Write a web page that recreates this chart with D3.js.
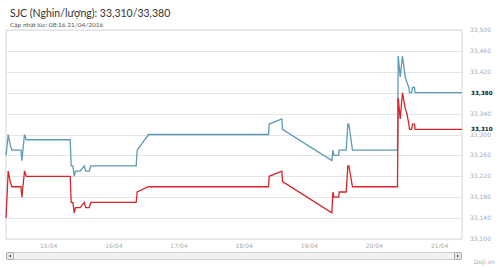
<!DOCTYPE html>
<meta charset="utf-8">
<head>
<style>
    body {margin: 0; background: #ffffff;}
    .ylab {font-family: "DejaVu Sans", sans-serif; font-size: 6px; fill: #aaaaaa;}
    .xlab {font-family: "DejaVu Sans", sans-serif; font-size: 6px; fill: #aaaaaa;}
</style>
</head>
<body>
<div class="chart"></div>
</body>
<script src="https://cdnjs.cloudflare.com/ajax/libs/d3/7.8.5/d3.min.js"></script>
<script>
// thoi diem cap nhat gia (nam 2016)
var times = [
    "14/04 08:16", "14/04 09:05", "14/04 09:49", "14/04 10:26", "14/04 13:46", "14/04 14:08",
    "14/04 14:30", "14/04 15:05", "14/04 15:43", "15/04 07:55", "15/04 08:17", "15/04 08:55",
    "15/04 09:24", "15/04 09:52", "15/04 11:36", "15/04 13:05", "15/04 13:38", "15/04 14:55",
    "15/04 15:33", "16/04 08:14", "16/04 08:36", "16/04 12:46", "18/04 08:59", "18/04 09:14",
    "18/04 13:55", "18/04 14:08", "19/04 08:20", "19/04 08:42", "19/04 09:04", "19/04 10:50",
    "19/04 11:01", "19/04 13:36", "19/04 14:13", "19/04 14:35", "19/04 15:55", "20/04 08:30",
    "20/04 08:46", "20/04 09:30", "20/04 10:20", "20/04 11:20", "20/04 11:58", "20/04 12:42",
    "20/04 12:55", "20/04 13:44", "20/04 14:02", "20/04 14:46", "20/04 15:00", "21/04 08:16"
];
// gia ban
var sell = [
    33260, 33300, 33280, 33270, 33270, 33250, 33270, 33300, 33290, 33290, 33240, 33240,
    33220, 33230, 33230, 33240, 33230, 33230, 33240, 33240, 33270, 33300, 33300, 33320,
    33330, 33310, 33250, 33270, 33260, 33260, 33270, 33270, 33320, 33320, 33270, 33270,
    33450, 33410, 33450, 33410, 33400, 33390, 33380, 33380, 33390, 33390, 33380, 33380
];
// gia mua
var buy = [
    33140, 33230, 33210, 33200, 33200, 33180, 33200, 33230, 33220, 33220, 33170, 33170,
    33150, 33160, 33160, 33170, 33160, 33160, 33170, 33170, 33190, 33200, 33200, 33220,
    33230, 33210, 33150, 33190, 33180, 33180, 33190, 33190, 33240, 33240, 33200, 33200,
    33370, 33330, 33380, 33350, 33340, 33320, 33310, 33310, 33320, 33320, 33310, 33310
];
var yTicks = [33100, 33140, 33180, 33220, 33260, 33300, 33340, 33420, 33460, 33500];
var xTicks = ["15/04", "16/04", "17/04", "18/04", "19/04", "20/04", "21/04"];
var lastBuy = 33310, lastSell = 33380;
var title = "SJC (Nghin/lượng): 33,310/33,380";
var updated = "Cập nhật lúc: 08:16 21/04/2016";

var W = 500, H = 268;
var box = {left: 6, top: 30, right: 462, bottom: 239};

var parse = d3.timeParse("%d/%m %H:%M %Y");
var toDate = function (s) { return parse(s + " 2016"); };
var dayParse = function (s) { return parse(s + " 00:00 2016"); };

var x = d3.scaleTime()
    .domain([toDate(times[0]), toDate(times[times.length - 1])])
    .range([box.left, box.right]);
var y = d3.scaleLinear().domain([33100, 33500]).range([box.bottom, box.top]);

var svg = d3.select(".chart").append("svg")
    .attr("width", W)
    .attr("height", H);

svg.append("text")
    .attr("x", 10).attr("y", 16.5)
    .style("font-family", "Lato, sans-serif")
    .style("font-size", "10.5px")
    .style("fill", "#333333")
    .text(title);
svg.append("text")
    .attr("x", 10).attr("y", 26.5)
    .style("font-family", "Lato, sans-serif")
    .style("font-size", "6.5px")
    .style("fill", "#555555")
    .text(updated);

svg.append("rect")
    .attr("x", box.left).attr("y", box.top)
    .attr("width", box.right - box.left).attr("height", box.bottom - box.top)
    .style("fill", "#ffffff").style("stroke", "#d8d8d8");

var grid = d3.range(33100, 33501, 40);
svg.selectAll(".grid").data(grid).enter().append("line")
    .attr("class", "grid")
    .attr("x1", box.left).attr("x2", box.right)
    .attr("y1", function (d) { return Math.round(y(d)) + 0.5; })
    .attr("y2", function (d) { return Math.round(y(d)) + 0.5; })
    .style("stroke", "#e4e4e4");

svg.selectAll(".ylab").data(yTicks).enter().append("text")
    .attr("class", "ylab")
    .attr("x", 470)
    .attr("y", function (d) { return y(d) + 2; })
    .text(d3.format(","));

svg.selectAll(".xlab").data(xTicks).enter().append("text")
    .attr("class", "xlab")
    .attr("x", function (d) { return x(dayParse(d)); })
    .attr("y", 247.5)
    .attr("text-anchor", "middle")
    .text(function (d) { return d; });

var line = d3.line()
    .x(function (d) { return x(d.t); })
    .y(function (d) { return y(d.v); });

function series(vals) {
    return vals.map(function (v, i) { return {t: toDate(times[i]), v: v}; });
}

svg.append("path").datum(series(sell))
    .attr("d", line)
    .style("fill", "none").style("stroke", "#5c9ab6").style("stroke-width", 1.3);
svg.append("path").datum(series(buy))
    .attr("d", line)
    .style("fill", "none").style("stroke", "#d3262a").style("stroke-width", 1.3);

// nhan gia hien tai, nen trang che nhan luoi phia sau
[lastSell, lastBuy].forEach(function (v) {
    svg.append("rect")
        .attr("x", 469).attr("y", y(v) - 3.5)
        .attr("width", 24).attr("height", 6.5)
        .style("fill", "#ffffff");
    svg.append("text")
        .attr("x", 471).attr("y", y(v) + 2)
        .style("font-family", "DejaVu Sans, sans-serif")
        .style("font-size", "5.6px")
        .style("font-weight", "bold")
        .style("fill", "#222222")
        .text(d3.format(",")(v));
});

// thanh cuon
var sb = svg.append("g");
sb.append("rect")
    .attr("x", box.left + 0.5).attr("y", 252.5)
    .attr("width", box.right - box.left - 1).attr("height", 7)
    .attr("rx", 2)
    .style("fill", "#f2f2f2").style("stroke", "#d0d0d0");
[box.left + 0.5, box.right - 7.5].forEach(function (bx, i) {
    sb.append("rect")
        .attr("x", bx).attr("y", 252.5).attr("width", 7).attr("height", 7).attr("rx", 1)
        .style("fill", "#e6e6e6").style("stroke", "#aaaaaa");
    var cx = bx + 3.5, cy = 256;
    var pts = i === 0 ? [[cx + 1, cy - 1.5], [cx + 1, cy + 1.5], [cx - 1, cy]]
                      : [[cx - 1, cy - 1.5], [cx - 1, cy + 1.5], [cx + 1, cy]];
    sb.append("path")
        .attr("d", "M" + pts.join("L") + "Z")
        .style("fill", "#555555");
});

svg.append("text")
    .attr("x", 495).attr("y", 264)
    .attr("text-anchor", "end")
    .style("font-family", "DejaVu Sans, sans-serif")
    .style("font-size", "6px")
    .style("fill", "#aaaaaa")
    .text("Doji.vn");
</script>
</body>
